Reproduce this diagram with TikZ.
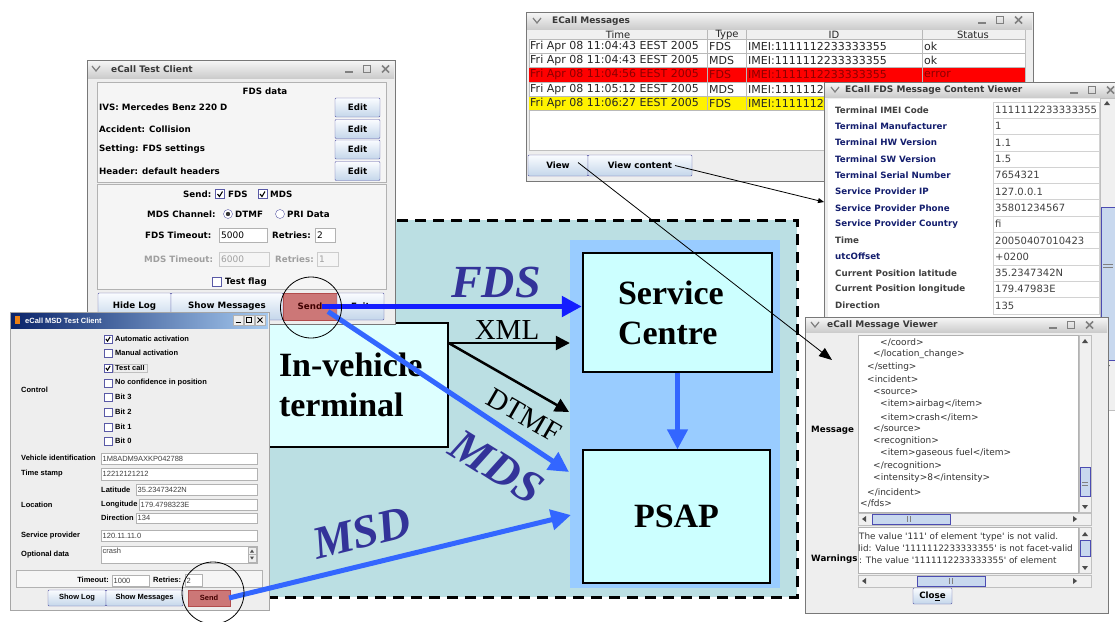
\documentclass[tikz,border=0pt]{standalone}
\usepackage{fontspec}
\setmainfont{Liberation Serif}
\newfontfamily\guifont{DejaVu Sans}
\newfontfamily\winfont{Liberation Sans}
\usetikzlibrary{arrows.meta}

\definecolor{bgteal}{RGB}{187,223,227}
\definecolor{colblue}{RGB}{153,204,255}
\definecolor{boxcyan}{RGB}{204,255,255}
\definecolor{boxpale}{RGB}{221,255,255}
\definecolor{fdsblue}{RGB}{20,30,255}
\definecolor{mdsblue}{RGB}{51,102,255}
\definecolor{labpurple}{RGB}{51,51,153}
\definecolor{sendred}{RGB}{204,119,119}
\definecolor{winbg}{RGB}{238,238,238}
\definecolor{winline}{RGB}{120,120,120}
\definecolor{navylab}{RGB}{20,30,110}
\definecolor{btntop}{RGB}{250,252,255}
\definecolor{btnbot}{RGB}{196,214,234}
\definecolor{xpnavy}{RGB}{10,36,106}
\definecolor{xplight}{RGB}{166,202,240}
\definecolor{thumbblue}{RGB}{200,216,238}

\tikzset{
  wicons/.pic={\draw[gray,line width=1.6pt] (0,3) -- (8,3);
    \draw[gray,line width=1pt] (18,-3.5) rectangle (25,3.5);
    \draw[gray,line width=1.6pt] (37,-3.5) -- (44,3.5) (44,-3.5) -- (37,3.5);},
  chkbox/.pic={\draw[gray!70!blue,fill=white] (-4.5,-4.5) rectangle (4.5,4.5);},
  chkmark/.pic={\draw[gray!70!blue,fill=white] (-4.5,-4.5) rectangle (4.5,4.5);
    \draw[line width=1.1pt] (-2.5,0) -- (-0.5,2.5) -- (2.5,-2.5);},
}

\begin{document}
\begin{tikzpicture}[x=1pt,y=-1pt,
  winbox/.style={draw=winline,fill=winbg,line width=1pt},
  titlebar/.style={top color=white!96!black,bottom color=white!80!black},
  jbtn/.style={draw=gray!70!blue,top color=btntop,bottom color=btnbot,rounded corners=1pt},
  sendbtn/.style={draw=gray!60!red,fill=sendred,text=red!25!black},
  sbar/.style={draw=gray!50,fill=gray!12},
  sthumb/.style={draw=gray!60!blue,fill=thumbblue},
  gb/.style={font=\guifont\bfseries\fontsize{8.7}{10}\selectfont,inner sep=0pt},
  gr/.style={font=\guifont\fontsize{9}{10}\selectfont,inner sep=0pt},
  gt/.style={font=\guifont\bfseries\fontsize{9}{10}\selectfont,inner sep=0pt,text=gray!45!black},
  tb/.style={font=\guifont\fontsize{11}{12}\selectfont,inner sep=0pt,text=black!85},
  vl/.style={font=\guifont\fontsize{10}{11}\selectfont,inner sep=0pt,text=black!75},
  mv/.style={font=\guifont\fontsize{9}{10}\selectfont,inner sep=0pt,text=black!80},
  wb/.style={font=\winfont\bfseries\fontsize{7.5}{8}\selectfont,inner sep=0pt},
  wr/.style={font=\winfont\fontsize{7.5}{8}\selectfont,inner sep=0pt,text=gray!50!black},
  bigbox/.style={draw=black,line width=1.3pt,font=\bfseries\fontsize{34}{40}\selectfont},
  bluearrow/.style={line width=5pt,-{Triangle[length=20pt,width=20pt]}},
  blackarrow/.style={line width=2.5pt,-{Triangle[length=14pt,width=14pt]}},
  flowtag/.style={font=\bfseries\itshape\fontsize{46}{46}\selectfont,text=labpurple,inner sep=0pt},
]
\useasboundingbox (0,0) rectangle (1115,621);

%Dashed system frame
\draw[fill=bgteal,line width=3pt,dash pattern=on 11pt off 7pt] (230,220) rectangle (797,597);

%Centre column
\node[fill=colblue,minimum width=210pt,minimum height=348pt] (pscol) at (675,414) {};

%Service Centre
\node[bigbox,fill=boxcyan,text width=119pt,inner xsep=35pt,minimum height=119pt,align=left] (service) at (677.5,312.5) {Service\\Centre};

%PSAP
\node[bigbox,fill=boxcyan,minimum width=187pt,minimum height=133pt] (psap) at (676.5,516.5) {PSAP};

%In-vehicle terminal
\node[bigbox,fill=boxpale,text width=159pt,inner xsep=10pt,minimum height=124pt,align=left] (invehicle) at (358.5,385) {In-vehicle\\terminal};

%ECall Messages window
\draw[winbox] (526,12) rectangle (1033,181);
\path[titlebar] (527,13) rectangle (1032,29);
\draw[gray,line width=1.2pt] (533,18) -- (537,23) -- (541,18);
\node[gt,anchor=west] at (552,21) {ECall Messages};
\pic at (978,20) {wicons};
\draw[gray!50,fill=white] (529,30) rectangle (1025,150);
\fill[gray!12] (529,30) rectangle (1025,39);
\fill[red] (529,67.7) rectangle (1025,82);
\fill[yellow] (529,96.3) rectangle (1025,110.7);
\foreach \i in {0,...,5} \draw[gray!55] (529,{39+14.33*\i}) -- (1025,{39+14.33*\i});
\foreach \x in {707,746,922} \draw[gray!55] (\x,30) -- (\x,110.7);
\foreach \x/\lab in {618/Time,727/Type,834/ID,973/Status} \node[tb,font=\guifont\fontsize{10}{11}\selectfont] at (\x,34.8) {\lab};
\foreach \y/\tm/\k/\st in {46.2/11:04:43/FDS/ok,60.5/11:04:43/MDS/ok,89.2/11:05:12/MDS/,103.5/11:06:27/FDS/}{
  \node[tb,anchor=west] at (530,\y) {Fri Apr 08 \tm\ EEST 2005};
  \node[tb,anchor=west] at (709,\y) {\k};
  \node[tb,anchor=west] at (748,\y) {IMEI:1111112233333355};
  \node[tb,anchor=west] at (924,\y) {\st};
}
\node[tb,anchor=west,text=red!55!black] at (530,74.8) {Fri Apr 08 11:04:56 EEST 2005};
\node[tb,anchor=west,text=red!55!black] at (709,74.8) {FDS};
\node[tb,anchor=west,text=red!55!black] at (748,74.8) {IMEI:1111112233333355};
\node[tb,anchor=west,text=red!55!black] at (924,74.8) {error};
\node[jbtn,gb,minimum width=60pt,minimum height=21pt] (viewbtn) at (558,165.5) {View};
\node[jbtn,gb,minimum width=104pt,minimum height=21pt] (vcbtn) at (640,165.5) {View content};

%ECall FDS Message Content Viewer
\draw[winbox] (824,82) rectangle (1125,410);
\path[titlebar] (825,83) rectangle (1125,97);
\draw[gray,line width=1.2pt] (831,87) -- (835,92) -- (839,87);
\node[gt,anchor=west] at (845,90) {ECall FDS Message Content Viewer};
\pic at (1070,90) {wicons};
\fill[white] (828,99) rectangle (1100,318);
\foreach \i/\lab/\val/\col in {0/Terminal IMEI Code/1111112233333355/black!75,1/Terminal Manufacturer/1/navylab,2/Terminal HW Version/1.1/navylab,3/Terminal SW Version/1.5/navylab,4/Terminal Serial Number/7654321/navylab,5/Service Provider IP/127.0.0.1/navylab,6/Service Provider Phone/35801234567/navylab,7/Service Provider Country/fi/navylab,8/Time/20050407010423/black!75,9/utcOffset/+0200/navylab,10/Current Position latitude/35.2347342N/black!75,11/Current Position longitude/179.47983E/black!75,12/Direction/135/black!75}{
  \pgfmathsetmacro{\yy}{110+16.3*\i}
  \draw[gray!35,fill=white] (993,{\yy-8.15}) rectangle (1099,{\yy+8.15});
  \node[gb,anchor=west,text=\col] at (835,\yy) {\lab};
  \node[vl,anchor=west] at (995,\yy) {\val};
}
\draw[sbar] (1100,98) rectangle (1116,410);
\fill[black!70] (1104,105) -- (1110,105) -- (1107,101) -- cycle;
\draw[sthumb] (1101,207) rectangle (1115,360);
\draw[gray] (1103,264) -- (1113,264) (1103,267) -- (1113,267);
\fill[black!70] (1104,365) -- (1110,365) -- (1107,369) -- cycle;

%eCall Message Viewer
\draw[winbox] (805,317) rectangle (1108,613);
\path[titlebar] (806,318) rectangle (1107,332);
\draw[gray,line width=1.2pt] (811,322) -- (815,327) -- (819,322);
\node[gt,anchor=west] at (827,325) {eCall Message Viewer};
\pic at (1049,325) {wicons};
\draw[gray!60,fill=white] (858,335) rectangle (1078,512);
\node[mv,anchor=west] at (880,342) {</coord>};
\node[mv,anchor=west] at (873,354) {</location\_change>};
\node[mv,anchor=west] at (867,367) {</setting>};
\node[mv,anchor=west] at (867,379) {<incident>};
\node[mv,anchor=west] at (873,392) {<source>};
\node[mv,anchor=west] at (880,404) {<item>airbag</item>};
\node[mv,anchor=west] at (880,417) {<item>crash</item>};
\node[mv,anchor=west] at (873,429) {</source>};
\node[mv,anchor=west] at (873,441) {<recognition>};
\node[mv,anchor=west] at (880,453) {<item>gaseous fuel</item>};
\node[mv,anchor=west] at (873,466) {</recognition>};
\node[mv,anchor=west] at (873,478) {<intensity>8</intensity>};
\node[mv,anchor=west] at (867,492) {</incident>};
\node[mv,anchor=west] at (860,503) {</fds>};
\draw[sbar] (1079,335) rectangle (1091,512);
\fill[black!70] (1082,343) -- (1088,343) -- (1085,339) -- cycle;
\draw[sthumb] (1080,467) rectangle (1090,496);
\draw[gray] (1082,482) -- (1088,482) (1082,485) -- (1088,485);
\fill[black!70] (1082,505) -- (1088,505) -- (1085,509) -- cycle;
\draw[sbar] (858,513) rectangle (1091,525);
\fill[black!70] (866,516) -- (866,522) -- (862,519) -- cycle;
\draw[sthumb] (872,514) rectangle (950,524);
\draw[gray] (907,516) -- (907,522) (910,516) -- (910,522);
\fill[black!70] (1073,516) -- (1073,522) -- (1077,519) -- cycle;
\node[gb,anchor=west] at (811,430) {Message};
\draw[gray!60,fill=white] (858,527) rectangle (1078,573);
\begin{scope}
\clip (858,527) rectangle (1078,573);
\node[mv,anchor=west,font=\guifont\fontsize{8.8}{10}\selectfont] at (859,537) {The value \textquotesingle111\textquotesingle\ of element \textquotesingle type\textquotesingle\ is not valid.};
\node[mv,anchor=west,font=\guifont\fontsize{8.8}{10}\selectfont] at (858,548.5) {lid: Value \textquotesingle1111112233333355\textquotesingle\ is not facet-valid};
\node[mv,anchor=west,font=\guifont\fontsize{8.8}{10}\selectfont] at (859,560) {: The value \textquotesingle1111112233333355\textquotesingle\ of element};
\end{scope}
\node[gb,anchor=west] at (811,559) {Warnings};
\draw[sbar] (1079,527) rectangle (1091,573);
\fill[black!70] (1082,536) -- (1088,536) -- (1085,532) -- cycle;
\draw[sthumb] (1080,540) rectangle (1090,556);
\fill[black!70] (1082,566) -- (1088,566) -- (1085,570) -- cycle;
\draw[sbar] (858,575) rectangle (1091,587);
\fill[black!70] (866,578) -- (866,584) -- (862,581) -- cycle;
\draw[sthumb] (917,576) rectangle (985,586);
\draw[gray] (949,578) -- (949,584) (952,578) -- (952,584);
\fill[black!70] (1073,578) -- (1073,584) -- (1077,581) -- cycle;
\node[jbtn,gb,minimum width=39pt,minimum height=16pt] (closebtn) at (932.5,596) {Clo\underline{s}e};

%eCall Test Client window
\draw[winbox] (87,60) rectangle (395,324);
\path[titlebar] (88,61) rectangle (394,78);
\draw[gray,line width=1.2pt] (92,66) -- (96,71) -- (100,66);
\node[gt,anchor=west] at (111,69.5) {eCall Test Client};
\pic at (345,69) {wicons};
\draw[gray!60,fill=white!96!black] (97,82) rectangle (386,182);
\node[gb] at (265,91) {FDS data};
\foreach \y/\lab in {107.5/IVS: Mercedes Benz 220 D,129/Accident: Collision,149.5/Setting: FDS settings,171/Header: default headers}{
  \node[gb,anchor=west] at (99,\y) {\lab};
  \node[jbtn,gb,minimum width=45pt,minimum height=19pt] at (357.5,\y) {Edit};
}
\draw[gray!60,fill=white!96!black] (97,184) rectangle (386,289);
\node[gb,anchor=west] at (183,194) {Send:};
\pic at (220,194) {chkmark};
\node[gb,anchor=west] at (228,194) {FDS};
\pic at (262.5,194) {chkmark};
\node[gb,anchor=west] at (270,194) {MDS};
\node[gb,anchor=west] at (147,214) {MDS Channel:};
\draw[gray!70!blue,fill=white] (228,214) circle (4.5);
\fill[black!80] (228,214) circle (2.2);
\node[gb,anchor=west] at (235,214) {DTMF};
\draw[gray!70!blue,fill=white] (280,214) circle (4.5);
\node[gb,anchor=west] at (287,214) {PRI Data};
\node[gb,anchor=west] at (145,235) {FDS Timeout:};
\draw[gray!60,fill=white] (219,228) rectangle (267,242);
\node[gr,anchor=west] at (221,235) {5000};
\node[gb,anchor=west] at (272,235) {Retries:};
\draw[gray!60,fill=white] (315,228) rectangle (335,242);
\node[gr,anchor=west] at (317,235) {2};
\node[gb,anchor=west,text=gray!75] at (144,259) {MDS Timeout:};
\draw[gray!40,fill=white!96!black] (219,252) rectangle (269,266);
\node[gr,anchor=west,text=gray!75] at (221,259) {6000};
\node[gb,anchor=west,text=gray!75] at (275,259) {Retries:};
\draw[gray!40,fill=white!96!black] (317,252) rectangle (338,266);
\node[gr,anchor=west,text=gray!75] at (319,259) {1};
\pic at (216.5,282) {chkbox};
\node[gb,anchor=west] at (225,282) {Test flag};
\node[jbtn,gb,minimum width=73pt,minimum height=27pt] (hidebtn) at (134.5,306.5) {Hide Log};
\node[jbtn,gb,minimum width=112pt,minimum height=27pt] (showbtn) at (227,306.5) {Show Messages};
\node[sendbtn,gb,minimum width=54pt,minimum height=27pt] (fdssend) at (310,306.5) {Send};
\node[jbtn,gb,minimum width=47pt,minimum height=27pt] (exitbtn) at (360.5,306.5) {Exit};

%eCall MSD Test Client window
\draw[gray!70,fill=winbg] (10,312) rectangle (269,610);
\shade[left color=xpnavy,right color=xplight] (11,313) rectangle (268,328);
\fill[orange!70!brown] (15,316) rectangle (20,324);
\node[wb,text=white,anchor=west] at (25,320.5) {eCall MSD Test Client};
\foreach \x in {233,244,255} \draw[gray!60,fill=winbg] (\x,315) rectangle ++(10,10);
\draw[line width=1pt] (235.5,322.5) -- (240.5,322.5);
\draw (246.5,317.5) rectangle (251.5,322.5);
\draw[line width=1pt] (257.5,317.5) -- (262.5,322.5) (262.5,317.5) -- (257.5,322.5);
\foreach \y/\lab/\ck in {339/Automatic activation/1,353/Manual activation/0,368/Test call/1,383/No confidence in position/0,397/Bit 3/0,412/Bit 2/0,427/Bit 1/0,441/Bit 0/0}{
  \ifnum\ck=1 \pic[scale=0.85] at (108,\y) {chkmark}; \else \pic[scale=0.85] at (108,\y) {chkbox}; \fi
  \node[wb,anchor=west] at (115,\y) {\lab};
}
\draw[gray!50] (113,364) rectangle (147,372.5);
\foreach \x/\y/\lab in {21/390/Control,21/458/Vehicle identification,21/474/Time stamp,101/490/Latitude,21/505/Location,101/505/Longitude,101/518/Direction,21/536/Service provider,21/555/Optional data}
  \node[wb,anchor=west] at (\x,\y) {\lab};
\foreach \xa/\ya/\yb/\val in {101/453/464/1M8ADM9AXKP042788,101/468/480/12212121212,136/484/495/35.23473422N,139/499/510/179.4798323E,136/513/523/134,101/530/541/120.11.11.0}{
  \draw[gray!60,fill=white] (\xa,\ya) rectangle (257,\yb);
  \node[wr,anchor=west] at ({\xa+1.5},{(\ya+\yb)/2}) {\val};
}
\draw[gray!60,fill=white] (101,546) rectangle (257,563);
\node[wr,anchor=west] at (102.5,551) {crash};
\draw[gray!60,fill=winbg] (248,547) rectangle (256,554.5) (248,554.5) rectangle (256,562);
\fill[black!70] (250,552.5) -- (254,552.5) -- (252,549.5) -- cycle;
\fill[black!70] (250,556.5) -- (254,556.5) -- (252,559.5) -- cycle;
\draw[gray!60,fill=white!96!black] (16,570) rectangle (262,587);
\node[wb,anchor=east] at (109,580) {Timeout:};
\draw[gray!60,fill=white] (112,575) rectangle (149,586);
\node[wr,anchor=west] at (113.5,580.5) {1000};
\node[wb,anchor=west] at (153,580) {Retries:};
\draw[gray!60,fill=white] (185,574) rectangle (202,586);
\node[wr,anchor=west] at (186.5,580.5) {2};
\node[jbtn,wb,minimum width=58pt,minimum height=16pt] (msdlog) at (77,598) {Show Log};
\node[jbtn,wb,minimum width=77pt,minimum height=16pt] (msdshow) at (144.5,598) {Show Messages};
\node[sendbtn,wb,minimum width=42pt,minimum height=16pt] (msdsend) at (209,598) {Send};

%Data flows
\coordinate (tx) at ([yshift=42pt]invehicle.east);
\coordinate (dtmfend) at (569,412);
\coordinate (mdsend) at (569,472);
\coordinate (msdend) at (571,515);
\draw[blackarrow] (tx) -- (tx -| pscol.west);
\draw[blackarrow] (tx) -- (dtmfend);
\draw[bluearrow,fdsblue] ([xshift=12pt]fdssend.center) -- ([xshift=12pt]fdssend.center -| pscol.west);
\draw[bluearrow,mdsblue] ([xshift=18pt,yshift=-5pt]fdssend.center) -- (mdsend);
\draw[bluearrow,mdsblue] ([xshift=20pt]msdsend.center) -- (msdend);
\draw[bluearrow,mdsblue,line width=4.5pt] (service.south) -- (service.south |- psap.north);

%Flow labels
\node[flowtag] (fdslab) at (496,282) {FDS};
\node[flowtag,rotate=-32] (mdslab) at (497,467) {MDS};
\node[flowtag,rotate=14] (msdlab) at (362,533) {MSD};
\node[font=\fontsize{29}{29}\selectfont,inner sep=0pt] (xmllab) at (507,330) {XML};
\node[font=\fontsize{29}{29}\selectfont,inner sep=0pt,rotate=-30] (dtmflab) at (524,415) {DTMF};

%Circles round the Send buttons
\draw[line width=0.8pt] ([xshift=1pt,yshift=-1pt]fdssend.center) circle [radius=30.5];
\draw[line width=0.8pt] ([xshift=4pt,yshift=5pt]msdsend.center) circle [radius=31];

%Pointers to the viewers
\coordinate (mvtip) at (832,360);
\coordinate (cvtip) at (824,202);
\draw[line width=0.8pt,-{Triangle[length=13pt,width=10pt]}] ([xshift=20pt,yshift=3pt]viewbtn.center) -- (mvtip);
\draw[line width=0.8pt,-{Triangle[length=6pt,width=5pt]}] ([xshift=35pt]vcbtn.center) -- (cvtip);
\end{tikzpicture}
\end{document}
